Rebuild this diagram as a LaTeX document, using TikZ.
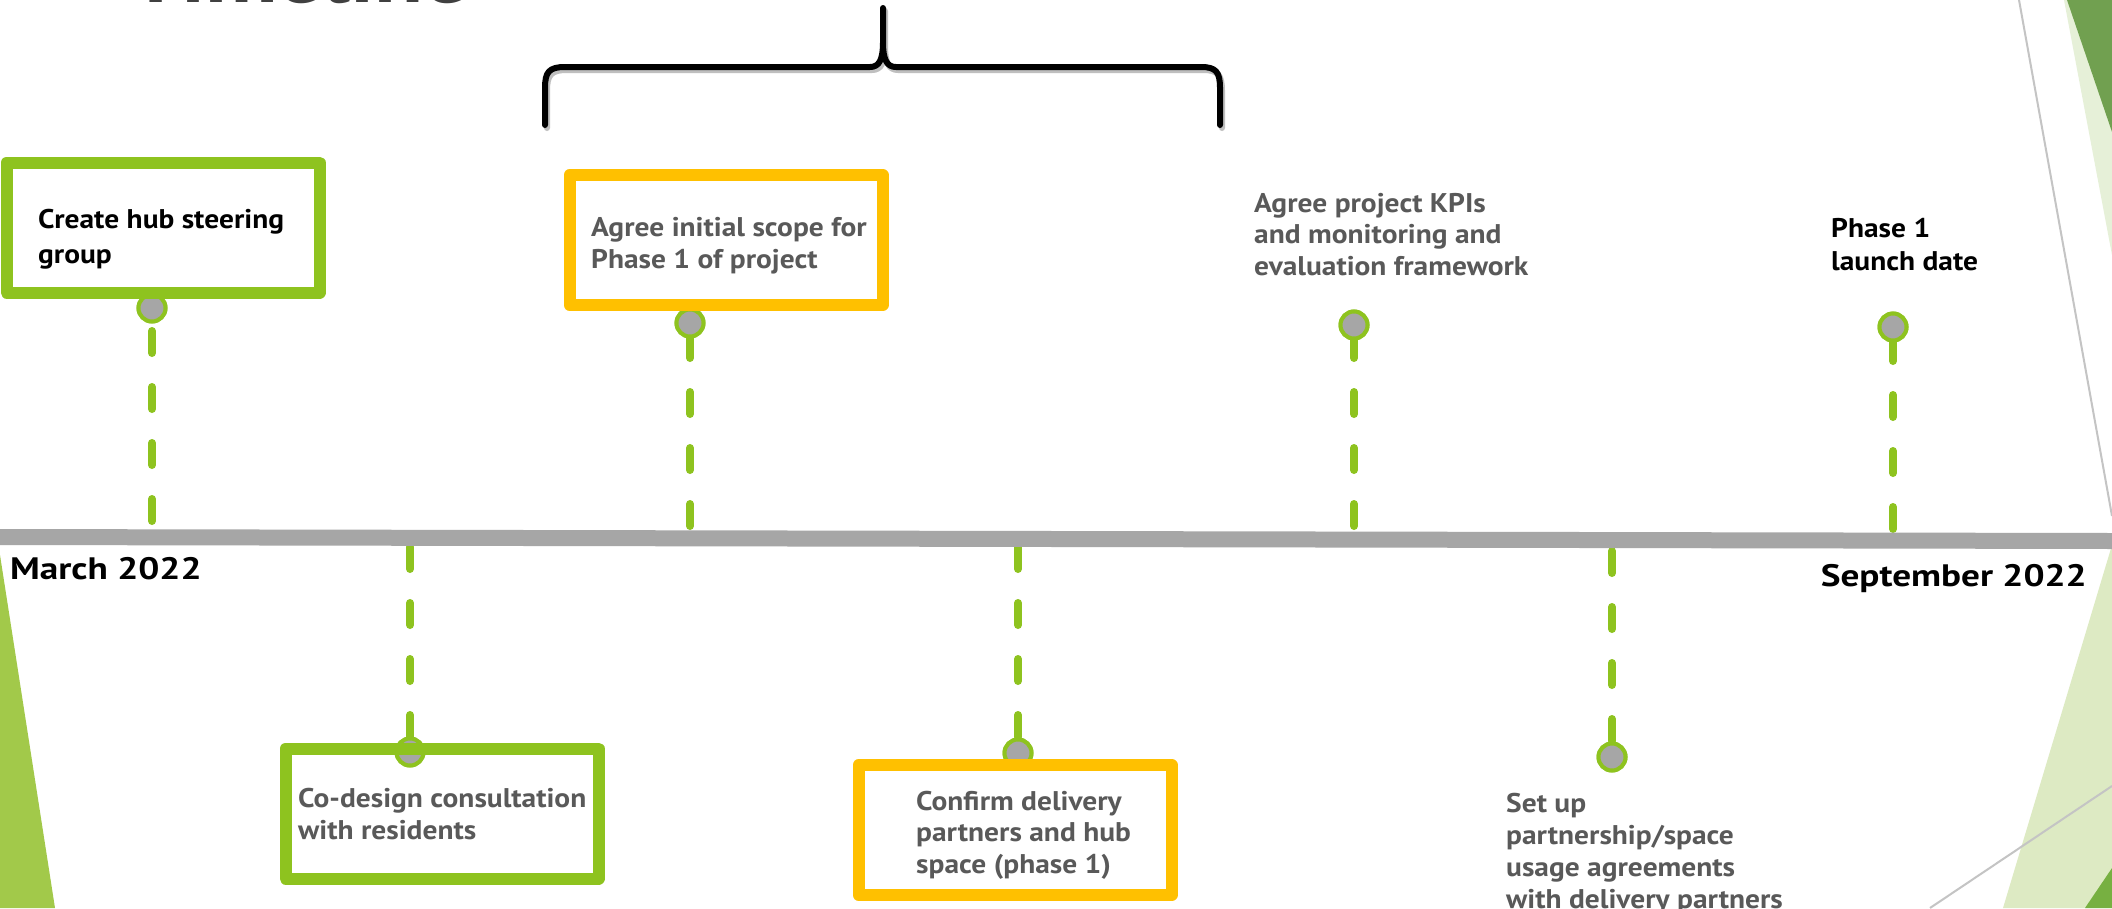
\documentclass[tikz,border=0pt]{standalone}
\usepackage{fontspec}
\setmainfont{PT Sans}
\newfontfamily\bodyfont{PT Sans}[FakeStretch=1.09]
\newfontfamily\datefont{PT Sans}[FakeStretch=1.2]
\definecolor{lgreen}{HTML}{8EC31F}
\definecolor{ayellow}{HTML}{FFC000}
\definecolor{tgray}{HTML}{595959}
\definecolor{dotgray}{HTML}{A6A6A6}
\definecolor{bargray}{HTML}{A6A6A6}
\definecolor{titlegray}{HTML}{404040}
\definecolor{leftgreen}{HTML}{A2C94A}
\definecolor{paleA}{HTML}{E6F0D8}
\definecolor{paleB}{HTML}{DDEAC3}
\definecolor{darkA}{HTML}{71A050}
\definecolor{darkB}{HTML}{77B041}
\definecolor{thinline}{HTML}{C4C4C4}
\begin{document}
\begin{tikzpicture}[x=1pt,y=-1pt,
  conn/.style={draw=lgreen, line width=8pt, line cap=round, dash pattern=on 22pt off 34pt},
  bar/.style={draw=bargray, line width=16pt},
  dot/.style={circle, draw=lgreen, fill=dotgray, line width=4pt, minimum size=27pt, inner sep=0pt},
  mbox/.style={rectangle, line width=12pt, line join=round, minimum width=313pt, minimum height=130pt, inner sep=0pt},
  gbox/.style={mbox, draw=lgreen},
  ybox/.style={mbox, draw=ayellow},
  txt/.style={anchor=base west, align=left, inner sep=0pt, text=tgray, font=\bodyfont\bfseries\fontsize{27}{31.5}\selectfont},
  btxt/.style={txt, text=black},
  date/.style={inner sep=0pt, text=black, font=\datefont\bfseries\fontsize{31}{36}\selectfont},
  brace/.style={draw=black, line width=6pt, line cap=round, line join=round},
  braceshadow/.style={draw=black!25, line width=6pt, line cap=round, line join=round},
  deco/.style={draw=thinline, line width=2pt}
]
\useasboundingbox (0,0) rectangle (2112,908);
\clip (0,0) rectangle (2112,908);
\fill[white] (0,0) rectangle (2112,908);

% decorative background shapes
\fill[leftgreen] (0,555) -- (55,908) -- (0,908) -- cycle;
\fill[paleA] (2064,0) -- (2112,0) -- (2112,255) -- cycle;
\fill[darkA] (2067,0) -- (2112,0) -- (2112,132) -- cycle;
\fill[paleB] (2112,545) -- (2003,908) -- (2112,908) -- cycle;
\fill[darkB] (2085,908) -- (2112,868) -- (2112,908) -- cycle;
\coordinate (d1a) at (2019,0);
\coordinate (d1b) at (2112,516);
\coordinate (d2a) at (1930,908);
\coordinate (d2b) at (2112,786);
\draw[deco] (d1a) -- (d1b);
\draw[deco] (d2a) -- (d2b);

% title fragment (cut off at the top edge, as in the reference)
\node[anchor=base west, inner sep=0pt, text=titlegray, font=\bfseries\fontsize{90}{90}\selectfont] (title) at (130,2.5) {Timeline};

% brace
\draw[braceshadow, shift={(2,3)}] (545,125) -- (545,88) .. controls (545,72) and (549,67) .. (565,67) -- (870,67) .. controls (879,67) and (883,60) .. (883,42) -- (883,8) -- (883,42) .. controls (883,60) and (887,67) .. (896,67) -- (1201,67) .. controls (1216,67) and (1220,72) .. (1220,88) -- (1220,125);
\draw[brace] (545,125) -- (545,88) .. controls (545,72) and (549,67) .. (565,67) -- (870,67) .. controls (879,67) and (883,60) .. (883,42) -- (883,8) -- (883,42) .. controls (883,60) and (887,67) .. (896,67) -- (1201,67) .. controls (1216,67) and (1220,72) .. (1220,88) -- (1220,125);

% circles
\node[dot] (c1) at (152,308) {};
\node[dot] (c2) at (690,323) {};
\node[dot] (c3) at (1354,325) {};
\node[dot] (c4) at (1893,327) {};
\node[dot] (c5) at (410,752) {};
\node[dot] (c6) at (1018,753) {};
\node[dot] (c7) at (1612,757) {};

% anchor points on the bar
\coordinate (a1) at (152,521);
\coordinate (a2) at (690,526);
\coordinate (a3) at (1354,526);
\coordinate (a4) at (1893,529);
\coordinate (a5) at (410,547);
\coordinate (a6) at (1018,547);
\coordinate (a7) at (1612,551);

% connectors
\draw[conn] (a1) -- (c1);
\draw[conn] (a2) -- (c2);
\draw[conn] (a3) -- (c3);
\draw[conn] (a4) -- (c4);
\draw[conn] (a5) -- (c5);
\draw[conn] (a6) -- (c6);
\draw[conn] (a7) -- (c7);

% redraw circles above connectors
\node[dot] at (c1) {};
\node[dot] at (c2) {};
\node[dot] at (c3) {};
\node[dot] at (c4) {};
\node[dot] at (c5) {};
\node[dot] at (c6) {};
\node[dot] at (c7) {};

% timeline bar
\coordinate (barL) at (0,537);
\coordinate (barR) at (2112,541);
\draw[bar] (barL) -- (barR);

% boxes
\node[gbox] (b1) at (163,227.5) {};
\node[ybox] (b2) at (726,240) {};
\node[gbox] (b3) at (442,813.5) {};
\node[ybox] (b4) at (1015,830) {};

% texts (anchored at the baseline of their last line)
\node[btxt, font=\bodyfont\bfseries\fontsize{27}{35}\selectfont] (t1) at (38,263) {Create hub steering\\group};
\node[txt] (t2) at (591,268) {Agree initial scope for\\Phase 1 of project};
\node[txt] (t3) at (1254,275) {Agree project KPIs\\and monitoring and\\evaluation framework};
\node[btxt, font=\bodyfont\bfseries\fontsize{27}{33}\selectfont] (t4) at (1831,270) {Phase 1\\launch date};
\node[txt] (t5) at (298,839) {Co-design consultation\\with residents};
\node[txt] (t6) at (916,873) {Confirm delivery\\partners and hub\\space (phase 1)};
\node[txt, font=\bodyfont\bfseries\fontsize{27}{32}\selectfont] (t7) at (1506,908) {Set up\\partnership/space\\usage agreements\\with delivery partners};

% dates
\node[date, anchor=base west] (mar) at (10,579) {March 2022};
\node[date, anchor=base east] (sep) at (2087,586) {September 2022};
\end{tikzpicture}
\end{document}
